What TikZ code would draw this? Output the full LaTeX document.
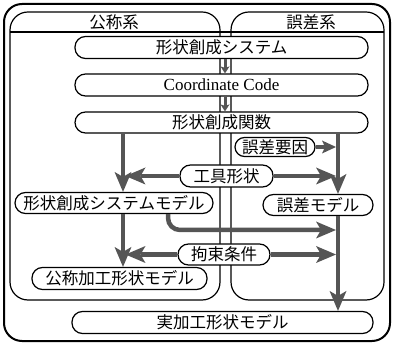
\documentclass[tikz,border=0pt]{standalone}
\usepackage{fontspec}
\setmainfont{Liberation Serif}
\newfontfamily\jp{Noto Sans CJK JP}
\newcommand\jpf{\jp\fontsize{16.5}{16.5}\selectfont}
\usetikzlibrary{arrows.meta}
\definecolor{gc}{RGB}{85,85,85}
\begin{document}
\begin{tikzpicture}[x=1pt,y=-1pt,
  nd/.style={draw, line width=1.2pt, fill=white, rounded corners=10.5pt, minimum height=22pt, inner sep=0pt, font=\jpf},
  ga/.style={draw=gc, line width=4.5pt, -{Stealth[length=20pt,width=17pt,inset=5pt,line width=0pt]}},
  gs/.style={draw=gc, line width=3.5pt, -{Stealth[length=14pt,width=13pt,inset=3pt,line width=0pt]}},
  sa/.style={draw=gc, line width=3pt, -{Stealth[length=7pt,width=9pt,inset=1.5pt,line width=0pt]}},
  region/.style={draw, line width=1.2pt, rounded corners=18pt},
  ttl/.style={font=\jpf}]
\useasboundingbox (0,0) rectangle (393,344);
\draw[line width=2pt, rounded corners=18pt] (4,4) rectangle (390,341);
\draw[region] (10,12) rectangle (220,300);
\draw[region] (231,12) rectangle (384,300);
\draw[line width=1.2pt] (10,32) -- (384,32);
\node[ttl] (t1) at (114,22) {公称系};
\node[ttl] (t2) at (311,22) {誤差系};
\node[nd, minimum width=293pt] (n1) at (221.5,47.5) {形状創成システム};
\node[nd, minimum width=293pt, font=\fontsize{17}{17}\selectfont] (n2) at (221.5,85) {Coordinate Code};
\node[nd, minimum width=293pt, minimum height=21pt] (n3) at (221.5,122.5) {形状創成関数};
\node[nd, minimum width=80pt, minimum height=19pt, rounded corners=9.5pt] (n4) at (275,147) {誤差要因};
\node[nd, minimum width=93pt] (n5) at (226.5,176) {工具形状};
\node[nd, minimum width=198pt, minimum height=21pt] (n6) at (114,203) {形状創成システムモデル};
\node[nd, minimum width=110pt, minimum height=21pt] (n7) at (318,205) {誤差モデル};
\node[nd, minimum width=92pt, minimum height=21pt] (n8) at (224,254.5) {拘束条件};
\node[nd, minimum width=175pt] (n9) at (119.5,278.5) {公称加工形状モデル};
\node[nd, minimum width=301pt] (n10) at (222.5,322.5) {実加工形状モデル};
\coordinate (xL) at (123,0);
\coordinate (xR) at (338,0);
\coordinate (xM) at (225,0);
\coordinate (xF) at (168,0);
\coordinate (tL) at (125.5,0);
\coordinate (tR) at (336,0);
\coordinate (cF) at (336,230);
\draw[sa] (n1.south -| xM) -- (n2.north -| xM);
\draw[sa] (n2.south -| xM) -- (n3.north -| xM);
\draw[ga] (n3.south -| xL) -- (n6.north -| xL);
\draw[ga] (n3.south -| xR) -- (n7.north -| xR);
\draw[ga] (n6.south -| xL) -- (n9.north -| xL);
\draw[ga] (n7.south -| xR) -- (n10.north -| xR);
\draw[gs] (n4.east) -- (n4.east -| tR);
\draw[ga] (n5.east) -- (n5.east -| tR);
\draw[ga] (n5.west) -- (n5.west -| tL);
\draw[ga] (n8.west) -- (n8.west -| tL);
\draw[ga] (n8.east) -- (n8.east -| tR);
\draw[ga, rounded corners=12pt] (n6.south -| xF) |- (cF);
\end{tikzpicture}
\end{document}
